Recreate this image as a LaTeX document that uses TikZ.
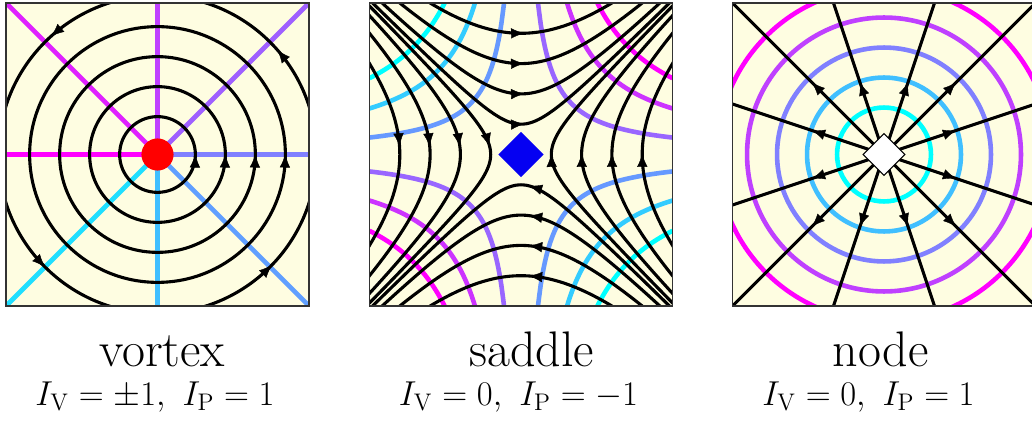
\documentclass[tikz,border=0pt]{standalone}
\usetikzlibrary{arrows.meta}
\definecolor{bgy}{RGB}{254,253,225}
\definecolor{cA}{rgb}{0,1,1}
\definecolor{cB}{rgb}{0.125,0.875,1}
\definecolor{cC}{rgb}{0.2,0.8,1}
\definecolor{cD}{rgb}{0.25,0.75,1}
\definecolor{cE}{rgb}{0.375,0.625,1}
\definecolor{cF}{rgb}{0.4,0.6,1}
\definecolor{cG}{rgb}{0.5,0.5,1}
\definecolor{cH}{rgb}{0.6,0.4,1}
\definecolor{cI}{rgb}{0.625,0.375,1}
\definecolor{cJ}{rgb}{0.75,0.25,1}
\definecolor{cK}{rgb}{0.8,0.2,1}
\definecolor{cL}{rgb}{0.875,0.125,1}
\definecolor{cM}{rgb}{1,0,1}
\definecolor{dblue}{rgb}{0.02,0,0.95}
\tikzset{
  frame/.style={draw=black!80, line width=0.8pt},
  flow/.style={draw=black, line width=1.55pt},
  equi/.style={line width=2.3pt},
  arr/.style={draw=black, line width=0.2pt, -{Latex[length=6.5pt,width=5.2pt]}},
  lbl/.style={font=\fontsize{25}{30}\selectfont, inner sep=0pt, text depth=0pt},
  idx/.style={font=\fontsize{18.8}{22}\selectfont, inner sep=0pt, text height=13pt},
}
\begin{document}
\begin{tikzpicture}[x=0.5pt,y=-0.5pt]
\useasboundingbox (0,0) rectangle (1032,427);

% ---------------- vortex ----------------
\begin{scope}[shift={(157.5,154.5)}, x=15.15pt, y=15.15pt]
  \fill[bgy] (-5,-5) rectangle (5,5);
  \begin{scope}
    \clip (-5,-5) rectangle (5,5);
    \draw[equi, cB] (0,0) -- (-5,-5);
    \draw[equi, cD] (0,0) -- (0,-5);
    \draw[equi, cE] (0,0) -- (5,-5);
    \draw[equi, cG] (0,0) -- (5,0);
    \draw[equi, cI] (0,0) -- (5,5);
    \draw[equi, cJ] (0,0) -- (0,5);
    \draw[equi, cL] (0,0) -- (-5,5);
    \draw[equi, cM] (0,0) -- (-5,0);
    \foreach \r in {1.25,2.24,3.23,4.22,5.25} \draw[flow] (0,0) circle (\r);
    \foreach \r in {1.25,2.24,3.23,4.22} \draw[arr] (-4:\r) -- (0:\r);
    \foreach \a in {41,132,225,316} \draw[arr] ({\a-3}:5.25) -- (\a:5.25);
    \fill[red] (0,0) circle (0.53);
  \end{scope}
  \draw[frame] (-5,-5) rectangle (5,5);
\end{scope}

% ---------------- saddle ----------------
\begin{scope}[shift={(521,154.5)}, x=15.15pt, y=15.15pt]
  \fill[bgy] (-5,-5) rectangle (5,5);
  \begin{scope}
    \clip (-5,-5) rectangle (5,5);
    % equipotentials xy = const
    \foreach \k/\cp/\cn in {2.8/cH/cF, 7.6/cK/cC, 12.6/cM/cA} {
      \draw[equi, \cp] plot[smooth, domain={\k/5}:5, samples=50] (\x,{\k/\x});
      \draw[equi, \cp] plot[smooth, domain={\k/5}:5, samples=50] ({-\x},{-\k/\x});
      \draw[equi, \cn] plot[smooth, domain={\k/5}:5, samples=50] ({-\x},{\k/\x});
      \draw[equi, \cn] plot[smooth, domain={\k/5}:5, samples=50] (\x,{-\k/\x});
    }
    % streamlines
    \foreach \c in {1,4,9,16} {
      \draw[flow] plot[smooth, domain=-5:5, samples=61] (\x,{sqrt(\c+(\x)*(\x))});
      \draw[flow] plot[smooth, domain=-5:5, samples=61] (\x,{-sqrt(\c+(\x)*(\x))});
      \draw[flow] plot[smooth, domain=-5:5, samples=61] ({-sqrt(\c+(\x)*(\x))},\x);
      \draw[flow] plot[smooth, domain=-5:5, samples=61] ({sqrt(\c+(\x)*(\x))},\x);
      \draw[arr] (-0.02,{sqrt(\c+0.0004)}) -- (0.1,{sqrt(\c+0.01)});
      \draw[arr] (0.37,{-sqrt(\c+0.1369)}) -- (0.27,{-sqrt(\c+0.0729)});
      \draw[arr] ({-sqrt(\c+0.1369)},0.37) -- ({-sqrt(\c+0.0729)},0.27);
      \draw[arr] ({sqrt(\c+0.0064)},-0.08) -- ({sqrt(\c+0.0004)},0.02);
    }
    \fill[dblue] (0,0.743) -- (0.743,0) -- (0,-0.743) -- (-0.743,0) -- cycle;
  \end{scope}
  \draw[frame] (-5,-5) rectangle (5,5);
\end{scope}

% ---------------- node ----------------
\begin{scope}[shift={(884,154.5)}, x=15.15pt, y=15.15pt]
  \fill[bgy] (-5,-5) rectangle (5,5);
  \begin{scope}
    \clip (-5,-5) rectangle (5,5);
    \foreach \r/\cc in {1.55/cA, 2.54/cD, 3.53/cG, 4.52/cJ, 5.51/cM}
      \draw[equi, \cc] (0,0) circle (\r);
    \foreach \px/\py in {5/5, 5/1.667, 5/-1.667, 5/-5, 1.667/-5, -1.667/-5,
                         -5/-5, -5/-1.667, -5/1.667, -5/5, -1.667/5, 1.667/5} {
      \draw[flow] (0,0) -- (\px,\py);
      \draw[arr] ({0.44*\px},{0.44*\py}) -- ({0.475*\px},{0.475*\py});
    }
    \filldraw[fill=white, draw=black, line width=0.5pt]
      (0,0.69) -- (0.69,0) -- (0,-0.69) -- (-0.69,0) -- cycle;
  \end{scope}
  \draw[frame] (-5,-5) rectangle (5,5);
\end{scope}

% ---------------- labels ----------------
\node[lbl, anchor=base] (vortexlbl) at (162,366.7) {vortex};
\node[idx, anchor=base] (vortexidx) at (155,405) {$I_{\mathrm{V}}=\pm1,\ I_{\mathrm{P}}=1$};
\node[lbl, anchor=base] (saddlelbl) at (531.5,366.7) {saddle};
\node[idx, anchor=base] (saddleidx) at (518.5,405) {$I_{\mathrm{V}}=0,\ I_{\mathrm{P}}=-1$};
\node[lbl, anchor=base] (nodelbl) at (880.5,366.7) {node};
\node[idx, anchor=base] (nodeidx) at (868.5,405) {$I_{\mathrm{V}}=0,\ I_{\mathrm{P}}=1$};
\end{tikzpicture}
\end{document}
